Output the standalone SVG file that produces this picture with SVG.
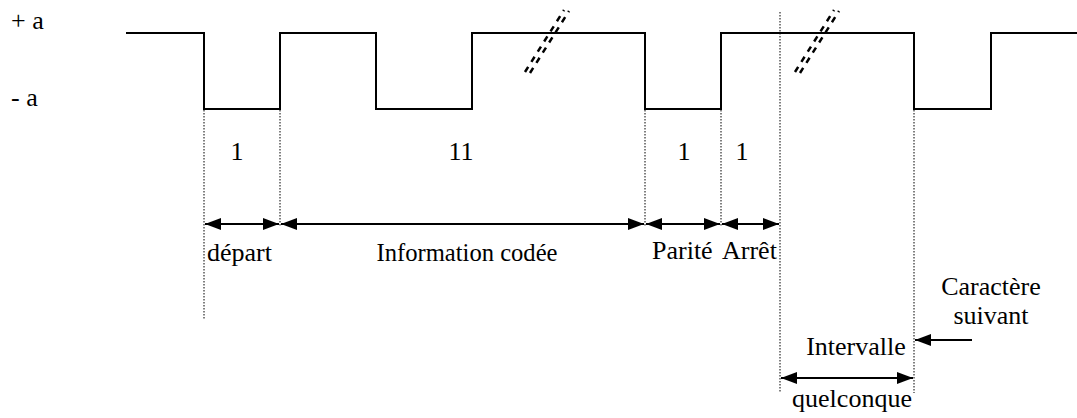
<svg xmlns="http://www.w3.org/2000/svg" width="1077" height="418" viewBox="0 0 1077 418">
<style>
text{font-family:"Liberation Serif","Times New Roman",serif;font-size:26px;fill:#000}
.sig{fill:none;stroke:#000;stroke-width:2}
.dot{stroke:#000;stroke-width:1;stroke-dasharray:1.5 1.5;fill:none}
.arr{stroke:#000;stroke-width:2;fill:none;marker-start:url(#ah);marker-end:url(#ah)}
.arr1{stroke:#000;stroke-width:2;fill:none;marker-end:url(#ah)}
.hash{stroke:#000;stroke-width:2.5;stroke-dasharray:6 6;fill:none}
</style>
<defs>
<marker id="ah" viewBox="0 0 16 12" refX="16" refY="6" markerWidth="16" markerHeight="12" markerUnits="userSpaceOnUse" orient="auto-start-reverse">
<path d="M0,0 L16,6 L0,12 z" fill="#000"/>
</marker>
</defs>
<g id="signal">
<path class="sig" d="M126,33 H204 V109 H280 V33 H376 V109 H472 V33 H645 V109 H721 V33 H914 V109 H991 V33 H1077"/>
</g>
<g id="breaks">
<line class="hash" x1="525" y1="72" x2="564" y2="10"/>
<line class="hash" x1="530" y1="73" x2="569" y2="11"/>
<line class="hash" x1="795" y1="72" x2="834" y2="10"/>
<line class="hash" x1="800" y1="73" x2="839" y2="11"/>
</g>
<g id="guides">
<line class="dot" x1="204" y1="110" x2="204" y2="320"/>
<line class="dot" x1="280" y1="110" x2="280" y2="226"/>
<line class="dot" x1="645" y1="110" x2="645" y2="226"/>
<line class="dot" x1="721" y1="110" x2="721" y2="226"/>
<line class="dot" x1="780" y1="12" x2="780" y2="393"/>
<line class="dot" x1="914" y1="110" x2="914" y2="393"/>
</g>
<g id="connectors">
<line class="arr" x1="205" y1="224" x2="279" y2="224"/>
<line class="arr" x1="281" y1="224" x2="644" y2="224"/>
<line class="arr" x1="646" y1="224" x2="720" y2="224"/>
<line class="arr" x1="722" y1="224" x2="779" y2="224"/>
<line class="arr" x1="781" y1="378" x2="913" y2="378"/>
<line class="arr1" x1="972" y1="340" x2="915" y2="340"/>
</g>
<g id="levels">
<text x="11" y="29">+ a</text>
<text x="11" y="106">- a</text>
</g>
<g id="counts">
<text x="237" y="160" text-anchor="middle">1</text>
<text x="461" y="160" text-anchor="middle">11</text>
<text x="684" y="160" text-anchor="middle">1</text>
<text x="742" y="160" text-anchor="middle">1</text>
</g>
<g id="fields">
<text x="207" y="261">départ</text>
<text x="467" y="261" text-anchor="middle" textLength="181" lengthAdjust="spacingAndGlyphs">Information codée</text>
<text x="652" y="259">Parité</text>
<text x="722" y="259">Arrêt</text>
</g>
<g id="next">
<text x="991" y="295" text-anchor="middle">Caractère</text>
<text x="991" y="324" text-anchor="middle">suivant</text>
</g>
<g id="interval">
<text x="856" y="355" text-anchor="middle">Intervalle</text>
<text x="852" y="407" text-anchor="middle">quelconque</text>
</g>
</svg>
